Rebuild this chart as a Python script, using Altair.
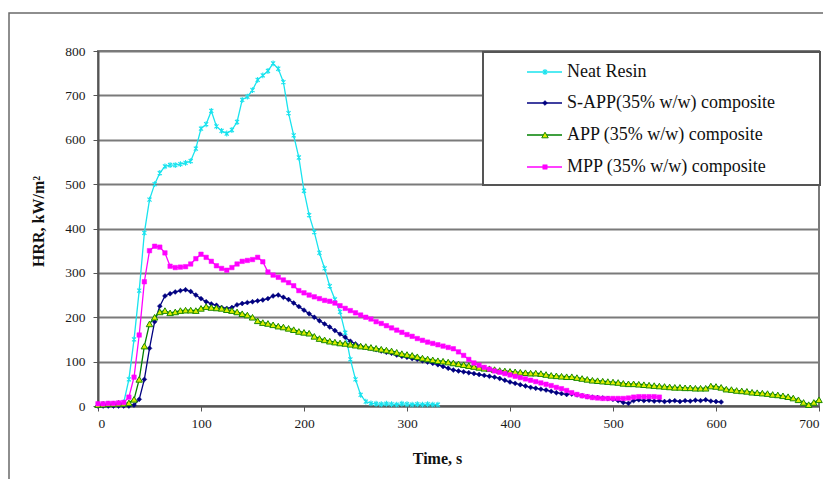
import altair as alt
import pandas as pd

SERIES = ["Neat Resin", "S-APP(35% w/w) composite", "APP (35% w/w) composite", "MPP (35% w/w) composite"]
STEP = 5  # seconds between readings

neat = [2, 3, 4, 4, 5, 8, 60, 150, 260, 390, 465, 500, 525, 540, 543, 543, 545, 548,
        552, 580, 625, 635, 665, 630, 620, 614, 622, 640, 690, 697, 712, 735, 745, 755,
        772, 760, 730, 660, 610, 560, 485, 430, 392, 345, 310, 270, 240, 212, 165, 105,
        60, 25, 10, 6, 5, 4, 5, 4, 3, 5, 4, 3, 4, 3, 4, 3, 3]
sapp = [0, 0, 0, 0, 0, 0, 0, 2, 15, 60, 130, 190, 225, 248, 253, 257, 260, 262, 258, 250,
        242, 235, 230, 227, 222, 220, 222, 228, 231, 233, 235, 237, 239, 242, 248, 250,
        245, 240, 232, 224, 216, 208, 200, 192, 185, 178, 170, 162, 155, 146, 140, 135,
        132, 130, 127, 124, 121, 119, 115, 112, 110, 107, 105, 102, 99, 96, 93, 89, 85,
        81, 79, 77, 75, 73, 71, 69, 67, 65, 62, 58, 54, 51, 48, 45, 42, 40, 38, 36, 33,
        30, 28, 26, 27, 25, 23, 21, 20, 19, 18, 17, 15, 12, 8, 6, 12, 14, 12, 13, 11, 12,
        10, 11, 12, 10, 12, 11, 13, 12, 14, 11, 10, 9]
app = [3, 4, 5, 5, 6, 6, 7, 15, 60, 135, 185, 200, 212, 215, 210, 212, 215, 216, 216,
       215, 220, 224, 222, 221, 220, 217, 215, 212, 208, 205, 200, 192, 188, 186, 183,
       180, 178, 175, 172, 168, 166, 164, 157, 152, 149, 146, 144, 142, 141, 139, 137,
       135, 134, 132, 130, 128, 126, 124, 121, 118, 116, 114, 111, 108, 106, 104, 102,
       101, 99, 97, 95, 93, 91, 89, 87, 85, 84, 82, 80, 79, 78, 77, 76, 75, 74, 74, 73,
       71, 69, 68, 67, 66, 66, 64, 62, 60, 58, 57, 56, 55, 54, 53, 51, 50, 50, 49, 48,
       47, 46, 45, 44, 43, 42, 42, 41, 41, 40, 40, 40, 45, 44, 42, 38, 37, 35, 34, 33,
       31, 30, 29, 28, 26, 25, 23, 21, 18, 14, 8, 3, 8, 14]
mpp = [5, 5, 6, 6, 7, 8, 20, 65, 160, 280, 350, 360, 358, 345, 315, 312, 313, 314, 320,
       332, 342, 335, 326, 316, 310, 306, 312, 320, 326, 328, 330, 335, 325, 302, 295,
       290, 284, 278, 271, 260, 255, 250, 246, 242, 238, 236, 232, 226, 220, 215, 210,
       205, 200, 196, 190, 186, 181, 176, 171, 166, 161, 157, 152, 148, 144, 141, 138,
       135, 132, 129, 122, 114, 105, 97, 92, 87, 83, 79, 76, 73, 70, 67, 64, 61, 58, 55,
       52, 49, 46, 42, 39, 35, 30, 26, 23, 21, 19, 18, 17, 17, 17, 17, 17, 18, 20, 21,
       21, 21, 21, 20]

X_TICKS = [0, 100, 200, 300, 400, 500, 600, 700]
Y_TICKS = [0, 100, 200, 300, 400, 500, 600, 700, 800]

STYLES = {
    "Neat Resin": dict(color="#19E3EE", shape="M-0.7,-0.7L0.7,0.7M-0.7,0.7L0.7,-0.7M0,-1L0,1",
                       filled=False, fill="#19E3EE", stroke="#19E3EE", size=34, sw=1.1),
    "S-APP(35% w/w) composite": dict(color="#000080", shape="diamond", filled=True,
                                     fill="#000080", stroke="#000080", size=24, sw=0.5),
    "APP (35% w/w) composite": dict(color="#008000", shape="triangle-up", filled=True,
                                    fill="#DDEE00", stroke="#1a8a00", size=42, sw=1.0),
    "MPP (35% w/w) composite": dict(color="#FF00FF", shape="square", filled=True,
                                    fill="#FF00FF", stroke="#FF00FF", size=20, sw=0.5),
}

FONT = "Times New Roman, Liberation Serif, serif"

x_enc = alt.X("t:Q", scale=alt.Scale(domain=[0, 700], nice=False),
              axis=alt.Axis(values=X_TICKS, title="Time, s", grid=False,
                            titleX=339, titleY=52, titleBaseline="middle"))
y_enc = alt.Y("v:Q", scale=alt.Scale(domain=[0, 800], nice=False),
              axis=alt.Axis(values=Y_TICKS, title="HRR, kW/m²", grid=True,
                            titleX=-60, titleY=170, titleBaseline="middle",
                            titleAlign="center", titleAngle=270))

layers = []
one = pd.DataFrame({"a": [0]})
# outer frame
layers.append(alt.Chart(one).mark_rect(fillOpacity=0, stroke="#6a6a6a", strokeWidth=1.5).encode(
    x=alt.value(-89), x2=alt.value(900), y=alt.value(-38), y2=alt.value(600)))

for name, vals in zip(SERIES, [neat, sapp, app, mpp]):
    s = STYLES[name]
    d = pd.DataFrame({"t": [i * STEP for i in range(len(vals))], "v": vals, "series": name})
    layers.append(alt.Chart(d).mark_line(color=s["color"], strokeWidth=1.3).encode(x=x_enc, y=y_enc))
    layers.append(alt.Chart(d).mark_point(shape=s["shape"], filled=s["filled"], fill=s["fill"],
                                          stroke=s["stroke"], size=s["size"], strokeWidth=s["sw"],
                                          opacity=1).encode(x=x_enc, y=y_enc))

# legend
layers.append(alt.Chart(one).mark_rect(fill="white", stroke="#555555", strokeWidth=2).encode(
    x=alt.value(385), x2=alt.value(722), y=alt.value(1), y2=alt.value(134)))
ROW_Y = [21, 52, 84, 116]
for name, yy in zip(SERIES, ROW_Y):
    s = STYLES[name]
    ld = pd.DataFrame({"label": [name]})
    layers.append(alt.Chart(ld).mark_rule(color=s["color"], strokeWidth=1.5).encode(
        x=alt.value(429), x2=alt.value(464), y=alt.value(yy)))
    layers.append(alt.Chart(ld).mark_point(shape=s["shape"], filled=s["filled"], fill=s["fill"],
                                           stroke=s["stroke"], size=s["size"], strokeWidth=s["sw"],
                                           opacity=1).encode(x=alt.value(447), y=alt.value(yy)))
    layers.append(alt.Chart(ld).mark_text(align="left", baseline="middle", font=FONT, fontSize=18,
                                          color="#111111").encode(
        x=alt.value(469), y=alt.value(yy), text="label:N"))

chart = alt.layer(*layers).properties(
    width=721, height=355,
    padding={"left": 90, "top": 43, "right": 4, "bottom": 73},
    autosize=alt.AutoSizeParams(type="none"),
).configure(
    font=FONT
).configure_view(
    stroke="#7a7a7a", strokeWidth=2
).configure_axis(
    labelFont=FONT, titleFont=FONT, labelFontSize=13.5, titleFontSize=16,
    titleFontWeight="bold", labelColor="#1a1a1a", titleColor="#111111",
    domainColor="#555555", domainWidth=2, tickColor="#555555", tickSize=5, tickWidth=1,
    gridColor="#7a7a7a", gridWidth=2, labelPadding=5
).configure_axisY(
    labelPadding=8
)

chart.save("out.html", embed_options={"renderer": "svg", "actions": False})
